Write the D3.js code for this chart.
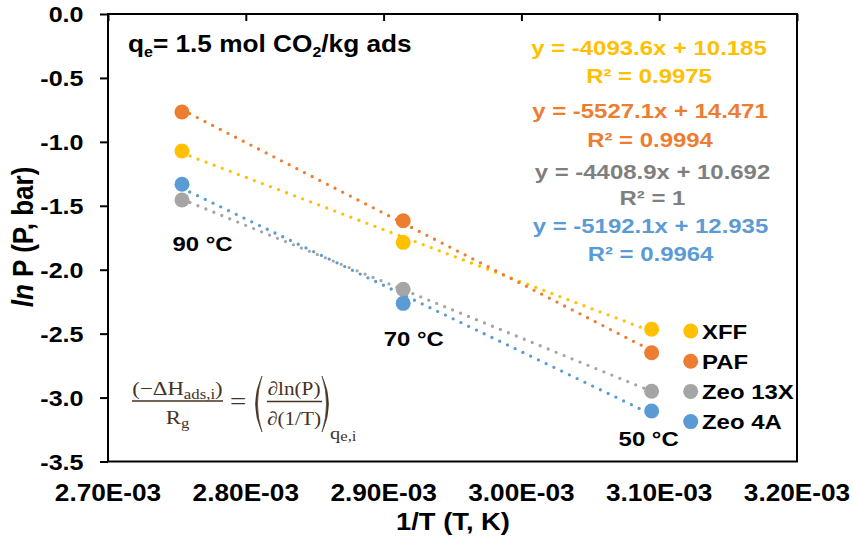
<!DOCTYPE html>
<html>
<head>
<meta charset="utf-8">
<script src="https://cdn.jsdelivr.net/npm/d3@7"></script>
<style>
  html, body { margin: 0; padding: 0; background: #fff; }
  svg { display: block; font-family: "Liberation Sans", Arial, sans-serif; font-weight: bold; }
</style>
</head>
<body>
<svg id="chart" width="853" height="539"></svg>
<script>
// Clausius–Clapeyron plot: ln P against 1/T at constant loading
const invT = [0.0027537, 0.0029142, 0.0030945];      // 1/T (K^-1) at 90, 70, 50 °C
const tempLabels = ["90 °C", "70 °C", "50 °C"];
const seriesNames = ["XFF", "PAF", "Zeo 13X", "Zeo 4A"];
const lnP_XFF    = [-1.071, -1.786, -2.466];
const lnP_PAF    = [-0.766, -1.617, -2.649];
const lnP_Zeo13X = [-1.455, -2.153, -2.951];
const lnP_Zeo4A  = [-1.332, -2.263, -3.105];
// linear fits  ln P = slope * (1/T) + intercept
const slopes     = [-4093.6, -5527.1, -4408.9, -5192.1];
const intercepts = [10.185, 14.471, 10.692, 12.935];
const rSquared   = ["0.9975", "0.9994", "1", "0.9964"];
const xTicks = [0.0027, 0.0028, 0.0029, 0.0030, 0.0031, 0.0032];
const yTicks = [0, -0.5, -1.0, -1.5, -2.0, -2.5, -3.0, -3.5];

const seriesValues = [lnP_XFF, lnP_PAF, lnP_Zeo13X, lnP_Zeo4A];
const colors      = ["#FFC000", "#ED7D31", "#A5A5A5", "#5B9BD5"];
const labelColors = ["#FFC000", "#ED7D31", "#7F7F7F", "#5B9BD5"];
const SX = 1.14; // horizontal stretch applied to the text

const svg = d3.select("#chart");
const plot = { left: 108, right: 797, top: 14, bottom: 461.5 };

const x = d3.scaleLinear()
  .domain([xTicks[0], xTicks[xTicks.length - 1]])
  .range([plot.left, plot.right]);
const y = d3.scaleLinear()
  .domain([yTicks[yTicks.length - 1], yTicks[0]])
  .range([plot.bottom, plot.top]);

function sText(parent, px, py, anchor, size) {
  return parent.append("text")
    .attr("transform", `translate(${px},${py}) scale(${SX},1)`)
    .attr("text-anchor", anchor)
    .style("font-size", size + "px");
}

// ---- frame ----
svg.append("rect")
  .attr("x", plot.left).attr("y", plot.top)
  .attr("width", plot.right - plot.left).attr("height", plot.bottom - plot.top)
  .attr("fill", "none").attr("stroke", "#000").attr("stroke-width", 2);

// ---- y axis ----
const gy = svg.append("g")
  .attr("transform", `translate(${plot.left},0)`)
  .call(d3.axisLeft(y).tickValues(yTicks).tickSize(8).tickPadding(13.5)
    .tickFormat(d => d.toFixed(1)));
gy.attr("font-size", null).attr("font-family", null);
gy.select(".domain").remove();
gy.selectAll(".tick line").attr("stroke", "#000").attr("stroke-width", 2);
gy.selectAll(".tick text")
  .attr("fill", "#000")
  .attr("dy", "0.36em")
  .style("font-size", "22px")
  .attr("transform", `scale(${SX},1)`);

// ---- x axis: ticks on the top line, labels beneath the plot ----
const gx = svg.append("g")
  .attr("transform", `translate(0,${plot.top})`)
  .call(d3.axisBottom(x).tickValues(xTicks).tickSize(7).tickFormat(""));
gx.select(".domain").remove();
gx.selectAll(".tick line").attr("stroke", "#000").attr("stroke-width", 2);

const xLab = svg.append("g");
xTicks.forEach(t => {
  sText(xLab, x(t), 501, "middle", 23)
    .text((t * 1000).toFixed(2) + "E-03");
});

// ---- axis titles ----
sText(svg, 453, 530, "middle", 24).text("1/T (T, K)");

const yTitle = svg.append("text")
  .attr("transform", `translate(33,237) rotate(-90) scale(1,${SX})`)
  .attr("text-anchor", "middle")
  .style("font-size", "26px");
yTitle.append("tspan").style("font-style", "italic").text("ln");
yTitle.append("tspan").text(" P (P, bar)");

// ---- loading note ----
const note = sText(svg, 128, 52, "start", 23);
note.append("tspan").text("q");
note.append("tspan").attr("dy", 5).style("font-size", "14px").text("e");
note.append("tspan").attr("dy", -5).text("= 1.5 mol CO");
note.append("tspan").attr("dy", 5).style("font-size", "14px").text("2");
note.append("tspan").attr("dy", -5).text("/kg ads");

// ---- fitted lines (dotted) ----
const fit = d3.line().x(d => x(d.t)).y(d => y(d.v));
seriesValues.forEach((vals, i) => {
  const ends = [invT[0], invT[invT.length - 1]].map(t => ({ t, v: slopes[i] * t + intercepts[i] }));
  svg.append("path")
    .attr("d", fit(ends))
    .attr("fill", "none")
    .attr("stroke", colors[i])
    .attr("stroke-width", 3.3)
    .attr("stroke-linecap", "round")
    .attr("stroke-dasharray", "0 8.6");
});

// ---- data points ----
seriesValues.forEach((vals, i) => {
  svg.append("g").selectAll("circle")
    .data(vals.map((v, k) => ({ t: invT[k], v })))
    .join("circle")
    .attr("cx", d => x(d.t))
    .attr("cy", d => y(d.v))
    .attr("r", 7.5)
    .attr("fill", colors[i]);
});

// ---- temperature labels ----
const tempPos = [
  { dx: -9.5, yv: -1.85 },
  { dx: -19.5, yv: -2.6 },
  { dx: -33, yv: -3.375 }
];
tempLabels.forEach((lab, k) => {
  sText(svg, x(invT[k]) + tempPos[k].dx, y(tempPos[k].yv), "start", 21).attr("fill", "#000").text(lab);
});

// ---- regression equations ----
const eqPos = [
  { cx: 649, y1: 55, y2: 83 },
  { cx: 650, y1: 118, y2: 147 },
  { cx: 652.5, y1: 179, y2: 205 },
  { cx: 650.5, y1: 233, y2: 261 }
];
seriesNames.forEach((n, i) => {
  sText(svg, eqPos[i].cx, eqPos[i].y1, "middle", 21).attr("fill", labelColors[i])
    .text(`y = ${slopes[i]}x + ${intercepts[i]}`);
  sText(svg, eqPos[i].cx, eqPos[i].y2, "middle", 21).attr("fill", labelColors[i])
    .text(`R² = ${rSquared[i]}`);
});

// ---- legend ----
const leg = svg.append("g");
seriesNames.forEach((n, i) => {
  const cy = 331 + i * 30.2;
  leg.append("circle").attr("cx", 690.7).attr("cy", cy).attr("r", 7.5).attr("fill", colors[i]);
  sText(leg, 702, cy + 7.5, "start", 21).attr("fill", "#000").text(n);
});

// ---- isosteric heat relation ----
const fcol = "#45331f";
const f = svg.append("g")
  .attr("fill", fcol)
  .style("font-family", "'Liberation Serif', 'Times New Roman', serif")
  .style("font-weight", "normal");

function serif(px, py, anchor, size, sx) {
  return f.append("text")
    .attr("transform", `translate(${px},${py}) scale(${sx},1)`)
    .attr("text-anchor", anchor)
    .style("font-size", size + "px");
}
// left fraction
const n1 = serif(177.5, 394.5, "middle", 19, 1.2);
n1.append("tspan").text("(−ΔH");
n1.append("tspan").attr("dy", 4).style("font-size", "14px").text("ads,i");
n1.append("tspan").attr("dy", -4).text(")");
f.append("line").attr("x1", 132).attr("x2", 223).attr("y1", 401).attr("y2", 401)
  .attr("stroke", fcol).attr("stroke-width", 1.3);
const d1 = serif(177.5, 423.5, "middle", 19, 1.2);
d1.append("tspan").text("R");
d1.append("tspan").attr("dy", 4).style("font-size", "14px").text("g");

serif(238, 409, "middle", 24, 1.2).text("=");

// bracketed derivative
f.append("path").attr("d", "M262,376 Q249,404 262,432 Q253,404 262,376 Z")
  .attr("stroke", fcol).attr("stroke-width", 0.6);
f.append("path").attr("d", "M322,376 Q335,404 322,432 Q331,404 322,376 Z")
  .attr("stroke", fcol).attr("stroke-width", 0.6);
serif(294, 394.5, "middle", 19, 1.12).text("∂ln(P)");
f.append("line").attr("x1", 267).attr("x2", 322).attr("y1", 401.5).attr("y2", 401.5)
  .attr("stroke", fcol).attr("stroke-width", 1.3);
serif(294, 425, "middle", 19, 1.12).text("∂(1/T)");
const sub = serif(330, 439, "start", 17, 1.2);
sub.append("tspan").text("q");
sub.append("tspan").attr("dy", 2).style("font-size", "14px").text("e,i");
</script>
</body>
</html>
